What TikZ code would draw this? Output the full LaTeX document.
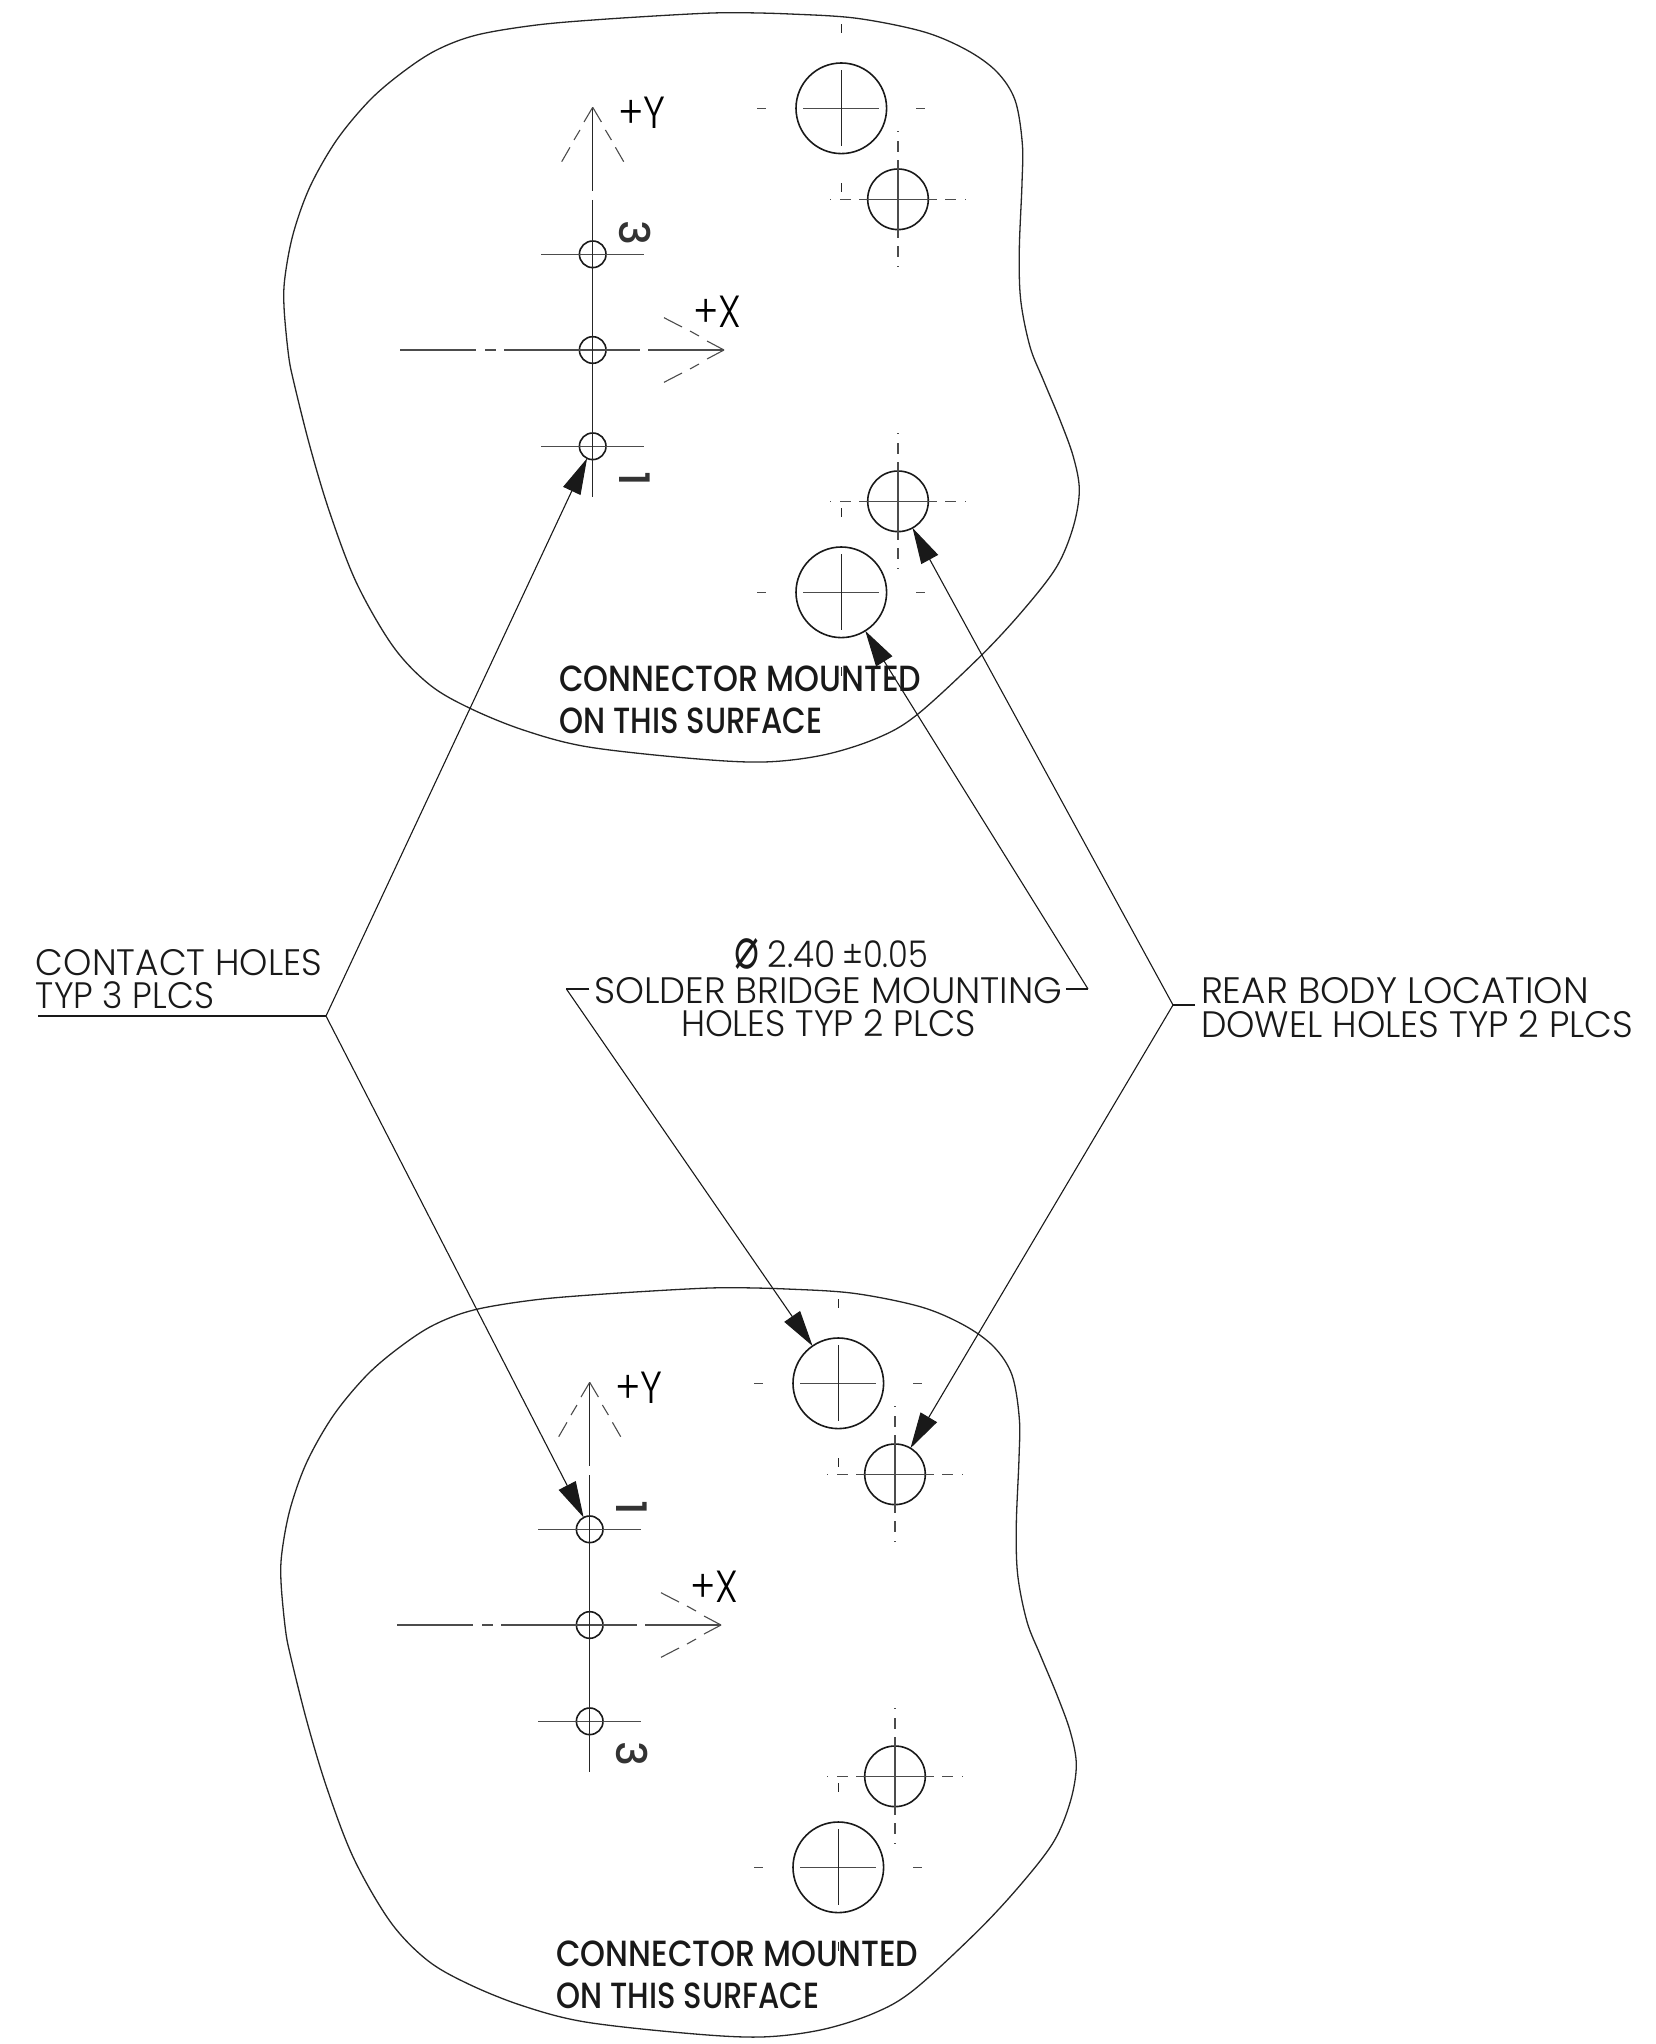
\documentclass[tikz,border=0pt]{standalone}
\usepackage{fontspec}
\usepackage{graphicx}
\setmainfont{Poppins}[UprightFont=* Light]
\newfontfamily\medfont{Poppins}[UprightFont=* Medium]
\newfontfamily\symfont{DejaVu Sans}
\usetikzlibrary{arrows.meta}
\newcommand\fitw[2]{\resizebox{#1pt}{\height}{#2}}
\tikzset{
  x=0.5pt,y=-0.5pt,
  outline/.style={line width=0.65pt,draw=black!85},
  cl/.style={line width=0.55pt,draw=black!70},
  clk/.style={line width=0.55pt,draw=black!85},
  hole/.style={circle,draw=black!90,line width=0.8pt,inner sep=0pt,outer sep=0pt},
  leader/.style={line width=0.55pt,draw=black!90},
  pointer/.style={leader,-{Triangle[length=18pt,width=9.5pt]}},
  note/.style={anchor=base west,inner sep=0pt,outer sep=0pt,font=\fontsize{18.4pt}{20pt}\selectfont,text=black!90},
  axl/.style={anchor=base west,inner sep=0pt,outer sep=0pt,font=\fontsize{22.5pt}{24pt}\selectfont,text=black},
  mounted/.style={anchor=base west,inner sep=0pt,outer sep=0pt,font=\fontsize{18.2pt}{20pt}\medfont,text=black!90},
  digit/.style={inner sep=0pt,outer sep=0pt,rotate=-90,font=\fontsize{21pt}{24pt}\medfont,text=black!80},
}
\newcommand\bigcross[2]{\begin{scope}[shift={(#1,#2)}]
  \draw[cl] (-38,0)--(38,0) (-84,0)--(-75,0) (75,0)--(84,0);
  \draw[clk] (0,-38)--(0,38) (0,-84)--(0,-75) (0,75)--(0,84);
\end{scope}}
\newcommand\smallcross[2]{\begin{scope}[shift={(#1,#2)}]
  \draw[cl] (-39,0)--(39,0) (-58,0)--(-47,0) (47,0)--(58,0) (-68,0)--(-67,0) (67,0)--(68,0);
  \draw[cl] (0,-39)--(0,39) (0,-58)--(0,-47) (0,47)--(0,58) (0,-68)--(0,-67) (0,67)--(0,68);
\end{scope}}
\newcommand\assembly[5]{%
\begin{scope}[shift={(#2,#3)},name prefix=#1-]
  \draw[outline,tension=0.55] plot[smooth cycle] coordinates {
    (690,14) (603,19.3) (536.7,25) (476.7,35) (436.7,50) (403.3,71.7) (370,100)
    (336.7,140) (310,186.7) (293.3,233.3) (285,276.7) (284,306.7) (288.3,353.3)
    (293.3,380) (310,446.7) (330,513.3) (356.7,583.3) (393.3,646.7) (430,685)
    (470,708.3) (523.3,730) (586.7,746.7) (690,758.3) (763.3,762) (823.3,755)
    (876.7,738.3) (916.7,715) (980,656.7) (1023.3,610) (1056.7,566.7) (1073.3,526.7)
    (1079.3,490) (1073.3,456.7) (1060,420) (1043.3,380) (1030,346.7) (1020.7,300)
    (1019.3,250) (1022,183.3) (1022.3,143.3) (1015,100) (996.7,71.7) (966.7,50)
    (923.3,31.7) (856.7,18.3) (790,14) (733.3,12.7)};
  % mounting holes
  \node[hole,minimum size=45.3pt] (bigA) at (841.3,108.3) {};
  \node[hole,minimum size=45.3pt] (bigB) at (841.3,592.3) {};
  \node[hole,minimum size=30.3pt] (dowA) at (898,199.3) {};
  \node[hole,minimum size=30.3pt] (dowB) at (898,501.3) {};
  \bigcross{841.3}{108.3}\bigcross{841.3}{592.3}
  \smallcross{898}{199.3}\smallcross{898}{501.3}
  % contact holes
  \node[hole,minimum size=13.3pt] (con3) at (592.7,254.3) {};
  \node[hole,minimum size=13.3pt] (con2) at (592.7,350) {};
  \node[hole,minimum size=13.3pt] (con1) at (592.7,446.3) {};
  \draw[cl] (541.4,254.3)--(644,254.3) (541.4,446.3)--(644,446.3) (541.4,350)--(620,350);
  \draw[clk] (592.7,200)--(592.7,497.3);
  % Y axis
  \coordinate (ytip) at (592.7,107.3);
  \draw[clk] (ytip)--(592.7,190.7);
  \draw[cl] (ytip)--(584,122) (580,130)--(574,140) (570,147.3)--(561.7,161.7)
            (ytip)--(601.4,122) (605.4,130)--(611.4,140) (615.4,147.3)--(623.7,161.7);
  % X axis
  \coordinate (xtip) at (724,350);
  \draw[cl] (400,350)--(476,350) (485,350)--(496,350) (504,350)--(541.4,350) (620,350)--(640,350) (648,350)--(xtip);
  \draw[cl] (xtip)--(707,341) (699,336)--(690,331) (682,327)--(664,317.7)
            (xtip)--(707,359) (699,364)--(690,369) (682,373)--(664,382.3);
  \node[axl] (ylab) at (618.3,128.3) {\fitw{23.7}{+Y}};
  \node[axl] (xlab) at (693,327.7) {\fitw{24}{+X}};
  \node[digit] (dtop) at (635,232.7) {#4};
  \node[digit] (dbot) at (635,479) {#5};
  \node[mounted] (mnt1) at (559.3,691.7) {\fitw{181}{CONNECTOR MOUNTED}};
  \node[mounted] (mnt2) at (559.3,733.3) {\fitw{131.5}{ON THIS SURFACE}};
\end{scope}}
\begin{document}
\begin{tikzpicture}
\useasboundingbox (0,0) rectangle (1655,2044);
\assembly{t}{0}{0}{3}{1}
\assembly{b}{-3}{1275}{1}{3}
% callouts
\node[note] (contact1) at (36,975) {\fitw{143}{CONTACT HOLES}};
\node[note] (contact2) at (36,1008.5) {\fitw{89}{TYP 3 PLCS}};
\coordinate (contactS) at (38,1016);
\coordinate (contactE) at (326,1016);
\draw[leader] (contactS)--(contactE);
\draw[pointer] (contactE)--(t-con1);
\draw[pointer] (contactE)--(b-con3);
\node[note] (solder0) at (734.7,967.7) {\raisebox{-0.5pt}{\resizebox{12.5pt}{15pt}{\symfont\symbol{"2300}}}\hspace{3.85pt}\fitw{34}{2.40}\hspace{3.35pt}\fitw{43}{±0.05}};
\node[note] (solder1) at (594.3,1003.3) {\fitw{234}{SOLDER BRIDGE MOUNTING}};
\node[note] (solder2) at (681,1036) {\fitw{147.5}{HOLES TYP 2 PLCS}};
\coordinate (solderL) at (566.4,989);
\coordinate (solderLb) at (589.3,989);
\coordinate (solderRb) at (1065.8,989);
\coordinate (solderR) at (1088,989);
\draw[leader] (solderLb)--(solderL);
\draw[leader] (solderRb)--(solderR);
\draw[pointer] (solderR)--(t-bigB);
\draw[pointer] (solderL)--(b-bigA);
\node[note] (rear1) at (1201,1003) {\fitw{194}{REAR BODY LOCATION}};
\node[note] (rear2) at (1201,1037) {\fitw{216}{DOWEL HOLES TYP 2 PLCS}};
\coordinate (rearP) at (1173,1005);
\coordinate (rearQ) at (1195,1005);
\draw[leader] (rearQ)--(rearP);
\draw[pointer] (rearP)--(t-dowB);
\draw[pointer] (rearP)--(b-dowA);
\end{tikzpicture}
\end{document}
